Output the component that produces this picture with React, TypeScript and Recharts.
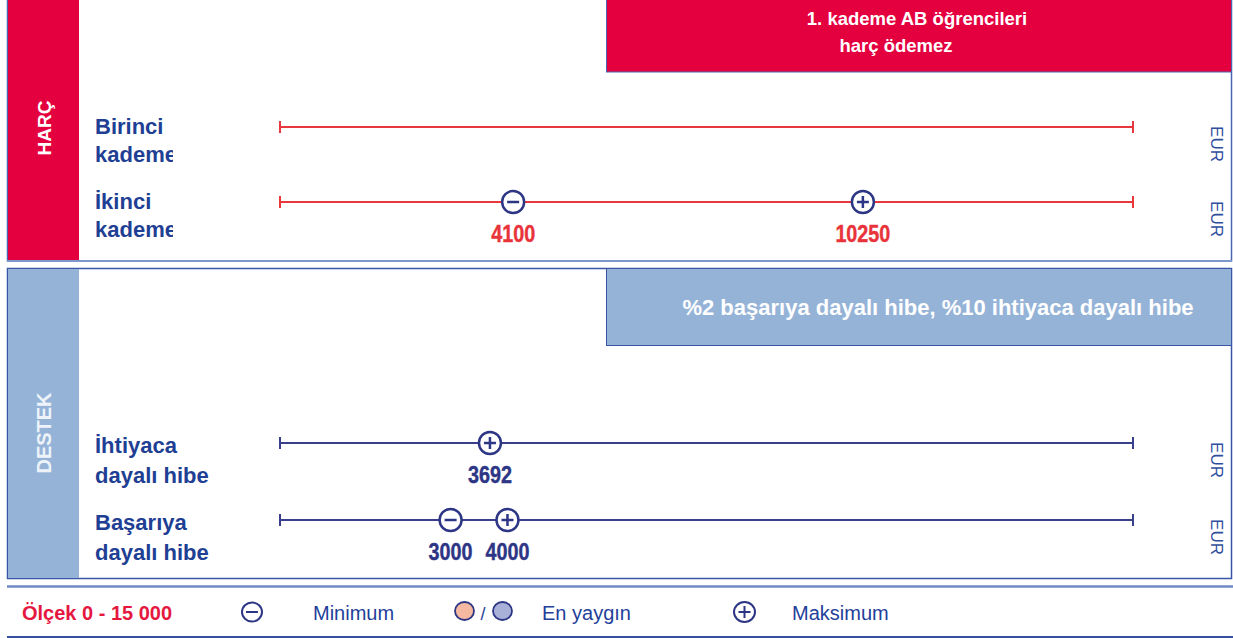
import { ScatterChart, Scatter, XAxis, YAxis } from "recharts";

// scale of every row, in EUR
const SCALE = [0, 15000];
const UNIT = "EUR";

const harcLabels = [["Birinci", "kademe"], ["İkinci", "kademe"]];
const harcMin = [null, 4100];
const harcMax = [null, 10250];

const destekLabels = [["İhtiyaca", "dayalı hibe"], ["Başarıya", "dayalı hibe"]];
const destekMin = [null, 3000];
const destekMax = [3692, 4000];

const legendItems = ["Minimum", "En yaygın", "Maksimum"];

const RED = "#e4003f";
const LIGHT = "#95b3d7";
const NAVY = "#2d3585";
const LABEL_BLUE = "#1f3f94";
const SANS = "'Liberation Sans', Arial, sans-serif";
const NARROW = "'Liberation Sans Narrow', 'Liberation Sans', Arial, sans-serif";

const Cap = (color: string) => (p: any) => (
  <line x1={p.cx} x2={p.cx} y1={p.cy - 6} y2={p.cy + 6} stroke={color} strokeWidth={2} />
);

const Marker = (valueColor: string) => (p: any) => {
  const { cx, cy, payload } = p;
  const txt = String(payload.x);
  return (
    <g>
      <circle cx={cx} cy={cy} r={11} fill="#fff" stroke={NAVY} strokeWidth={2.5} />
      <line x1={cx - 6} x2={cx + 6} y1={cy} y2={cy} stroke={NAVY} strokeWidth={2.5} />
      {payload.kind === "max" && (
        <line x1={cx} x2={cx} y1={cy - 6} y2={cy + 6} stroke={NAVY} strokeWidth={2.5} />
      )}
      <text
        x={cx}
        y={cy + 40}
        textAnchor="middle"
        fontFamily={NARROW}
        fontWeight="bold"
        fontSize={24}
        fill={valueColor}
        stroke={valueColor}
        strokeWidth={0.4}
        textLength={txt.length * 11}
        lengthAdjust="spacingAndGlyphs"
      >
        {txt}
      </text>
    </g>
  );
};

interface PanelProps {
  id: string;
  labels: string[][];
  mins: (number | null)[];
  maxs: (number | null)[];
  lineColor: string;
  valueColor: string;
  top: number;
  height: number;
  marginTop: number;
  marginBottom: number;
  dy: number[];
  clipWidth: number;
}

const Panel = ({ id, labels, mins, maxs, lineColor, valueColor, top, height, marginTop, marginBottom, dy, clipWidth }: PanelProps) => {
  const rows = labels.map((_, i) => i);
  const markers: any[] = [];
  rows.forEach((i) => {
    if (mins[i] != null) markers.push({ x: mins[i], y: i, kind: "min" });
    if (maxs[i] != null) markers.push({ x: maxs[i], y: i, kind: "max" });
  });

  // row label on the left, unit on the right
  const RowTick = (p: any) => {
    const lines = labels[p.payload.value] || [];
    const cid = `clip-${id}-${p.index}`;
    const uy = p.y + 17;
    return (
      <g>
        <defs>
          <clipPath id={cid}>
            <rect x={0} y={p.y - 40} width={clipWidth} height={100} />
          </clipPath>
        </defs>
        <text clipPath={`url(#${cid})`} fontFamily={SANS} fontWeight="bold" fontSize={22} fill={LABEL_BLUE}>
          <tspan x={95} y={p.y + dy[0]}>{lines[0]}</tspan>
          <tspan x={95} y={p.y + dy[1]}>{lines[1]}</tspan>
        </text>
        <text
          x={1216}
          y={uy}
          transform={`rotate(90, 1216, ${uy})`}
          textAnchor="middle"
          dominantBaseline="central"
          fontFamily={SANS}
          fontSize={17}
          fill="#2f4e9e"
        >
          {UNIT}
        </text>
      </g>
    );
  };

  return (
    <div style={{ position: "absolute", left: 0, top }}>
      <ScatterChart width={1233} height={height} margin={{ top: marginTop, bottom: marginBottom, left: 80, right: 100 }}>
        <XAxis type="number" dataKey="x" domain={SCALE} hide />
        <YAxis
          yAxisId="l"
          type="number"
          dataKey="y"
          domain={[0, rows.length - 1]}
          ticks={rows}
          reversed
          width={200}
          axisLine={false}
          tickLine={false}
          tick={RowTick}
        />
        {rows.map((i) => (
          <Scatter
            key={`r${i}`}
            yAxisId="l"
            data={[{ x: SCALE[0], y: i }, { x: SCALE[1], y: i }]}
            line={{ stroke: lineColor, strokeWidth: 2 }}
            shape={Cap(lineColor)}
            isAnimationActive={false}
          />
        ))}
        <Scatter yAxisId="l" data={markers} shape={Marker(valueColor)} isAnimationActive={false} />
      </ScatterChart>
    </div>
  );
};

const Background = () => (
  <svg width={1233} height={638} style={{ position: "absolute", left: 0, top: 0 }}>
    {/* HARÇ panel */}
    <rect x={7.5} y={-2} width={1224} height={263} fill="#fff" stroke="#4a66b0" strokeWidth={1.5} />
    <line x1={7} x2={1232} y1={261} y2={261} stroke="#7d97cb" strokeWidth={2} />
    <rect x={8} y={0} width={71} height={260} fill={RED} />
    <rect x={606.5} y={-2} width={625} height={74} fill={RED} stroke="#4a66b0" strokeWidth={1} />
    <text x={917} y={25} textAnchor="middle" fontFamily={SANS} fontWeight="bold" fontSize={18.5} fill="#fff">
      1. kademe AB öğrencileri
    </text>
    <text x={896} y={52} textAnchor="middle" fontFamily={SANS} fontWeight="bold" fontSize={18.5} fill="#fff">
      harç ödemez
    </text>
    <text x={44} y={128} transform="rotate(-90, 44, 128)" textAnchor="middle" dominantBaseline="central" fontFamily={SANS} fontWeight="bold" fontSize={19} fill="#fff">
      HARÇ
    </text>

    {/* DESTEK panel */}
    <rect x={7.5} y={268.5} width={1224} height={310} fill="#fff" stroke="#3a56a6" strokeWidth={1.5} />
    <rect x={8} y={269} width={71} height={309} fill={LIGHT} />
    <rect x={606.5} y={268.5} width={625} height={77} fill={LIGHT} stroke="#3a56a6" strokeWidth={1} />
    <text x={938} y={315} textAnchor="middle" fontFamily={SANS} fontWeight="bold" fontSize={22} fill="#fff">
      %2 başarıya dayalı hibe, %10 ihtiyaca dayalı hibe
    </text>
    <text x={43.5} y={433} transform="rotate(-90, 43.5, 433)" textAnchor="middle" dominantBaseline="central" fontFamily={SANS} fontWeight="bold" fontSize={20} fill="#eef3fa">
      DESTEK
    </text>

    {/* legend strip */}
    <line x1={7} x2={1233} y1={586.5} y2={586.5} stroke="#6d8ac6" strokeWidth={2.5} />
    <line x1={7} x2={1233} y1={637} y2={637} stroke="#3552a0" strokeWidth={2} />
    <text x={22} y={620} fontFamily={SANS} fontWeight="bold" fontSize={20} fill="#e5173f">
      Ölçek {SCALE[0]} - 15 000
    </text>
    <ellipse cx={252} cy={612} rx={10} ry={9.5} fill="#fff" stroke={NAVY} strokeWidth={2} />
    <line x1={246} x2={258} y1={612} y2={612} stroke={NAVY} strokeWidth={2} />
    <text x={313} y={620} fontFamily={SANS} fontSize={20} fill="#23409a">{legendItems[0]}</text>
    <ellipse cx={464.5} cy={611} rx={9.5} ry={9} fill="#f4b9a0" stroke={NAVY} strokeWidth={1.8} />
    <text x={483} y={620} textAnchor="middle" fontFamily={SANS} fontSize={18} fill="#23409a">/</text>
    <ellipse cx={502.5} cy={611} rx={9.5} ry={9} fill="#a9b1d9" stroke={NAVY} strokeWidth={1.8} />
    <text x={542} y={620} fontFamily={SANS} fontSize={20} fill="#23409a">{legendItems[1]}</text>
    <ellipse cx={744.5} cy={612} rx={10.5} ry={10} fill="#fff" stroke={NAVY} strokeWidth={2} />
    <line x1={738.5} x2={750.5} y1={612} y2={612} stroke={NAVY} strokeWidth={2} />
    <line x1={744.5} x2={744.5} y1={606} y2={618} stroke={NAVY} strokeWidth={2} />
    <text x={792} y={620} fontFamily={SANS} fontSize={20} fill="#23409a">{legendItems[2]}</text>
  </svg>
);

export default function App() {
  return (
    <div style={{ position: "absolute", left: 0, top: 0, width: 1233, height: 638, background: "#fff", overflow: "hidden" }}>
      <Background />
      <Panel
        id="harc"
        labels={harcLabels}
        mins={harcMin}
        maxs={harcMax}
        lineColor="#e8383d"
        valueColor="#e8333a"
        top={0}
        height={262}
        marginTop={127}
        marginBottom={60}
        dy={[7, 35]}
        clipWidth={173}
      />
      <Panel
        id="destek"
        labels={destekLabels}
        mins={destekMin}
        maxs={destekMax}
        lineColor="#3a3f8c"
        valueColor={NAVY}
        top={268}
        height={312}
        marginTop={175}
        marginBottom={60}
        dy={[10, 40]}
        clipWidth={400}
      />
    </div>
  );
}
